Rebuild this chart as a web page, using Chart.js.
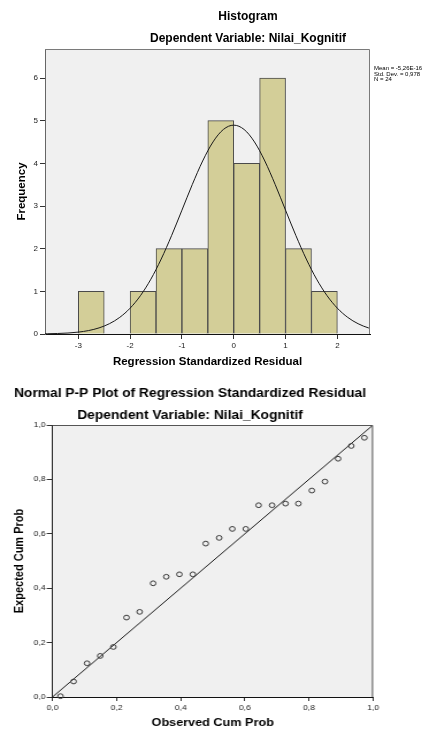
<!DOCTYPE html>
<html>
<head>
<meta charset="utf-8">
<script src="https://cdn.jsdelivr.net/npm/chart.js@4.4.0/dist/chart.umd.min.js"></script>
<style>
  html, body { margin: 0; padding: 0; background: #fff; }
  body { width: 444px; height: 731px; position: relative; overflow: hidden; }
  #hist { position: absolute; left: 0; top: 0; }
  /* the P-P plot in the reference is stretched sideways */
  #pp { position: absolute; left: 0; top: 370px; transform: scaleX(1.15); transform-origin: 0 0; }
</style>
</head>
<body>
<canvas id="hist" width="444" height="370" style="width:444px;height:370px"></canvas>
<canvas id="pp" width="386" height="361" style="width:386px;height:361px"></canvas>
<script>
const FONT = "'Liberation Sans', Arial, sans-serif";

// histogram: bins of 0.5
const binCenters = [-2.75, -2.25, -1.75, -1.25, -0.75, -0.25, 0.25, 0.75, 1.25, 1.75];
const binCounts = [1, 0, 1, 2, 2, 5, 4, 6, 2, 1];

// normal curve
const curveX = [-3.8, -3.6, -3.4, -3.2, -3.0, -2.8, -2.6, -2.4, -2.2, -2.0, -1.8, -1.6, -1.4, -1.2, -1.0,
  -0.8, -0.6, -0.4, -0.2, 0, 0.2, 0.4, 0.6, 0.8, 1.0, 1.2, 1.4, 1.6, 1.8, 2.0, 2.2, 2.4, 2.6, 2.8];
const curveY = [0.003, 0.006, 0.012, 0.023, 0.044, 0.081, 0.143, 0.241, 0.390, 0.605, 0.900, 1.284, 1.757, 2.306, 2.902,
  3.503, 4.055, 4.502, 4.794, 4.895, 4.794, 4.502, 4.055, 3.503, 2.902, 2.306, 1.757, 1.284, 0.900, 0.605, 0.390, 0.241, 0.143, 0.081];

const histXTicks = [-3, -2, -1, 0, 1, 2];
const histYTicks = [0, 1, 2, 3, 4, 5, 6];
const statsLines = ['Mean = -5,26E-16', 'Std. Dev. = 0,978', 'N = 24'];

// P-P plot
const observed = [0.025, 0.066, 0.108, 0.149, 0.190, 0.231, 0.272, 0.314, 0.355, 0.396, 0.438, 0.478,
  0.520, 0.561, 0.603, 0.643, 0.685, 0.727, 0.767, 0.809, 0.850, 0.891, 0.932, 0.973];
const expected = [0.003, 0.057, 0.124, 0.151, 0.184, 0.292, 0.313, 0.418, 0.442, 0.451, 0.451, 0.564,
  0.585, 0.618, 0.618, 0.705, 0.705, 0.711, 0.711, 0.759, 0.792, 0.876, 0.923, 0.953];
const ppTicks = [0, 0.2, 0.4, 0.6, 0.8, 1];
const ppTickLabels = ['0,0', '0,2', '0,4', '0,6', '0,8', '1,0'];

const plotFrame = {
  id: 'plotFrame',
  beforeDraw(chart) {
    const { ctx, chartArea: a } = chart;
    ctx.save();
    ctx.fillStyle = '#f0f0f0';
    ctx.fillRect(a.left, a.top, a.width, a.height);
    ctx.restore();
  },
  afterDatasetsDraw(chart, args, opts) {
    const { ctx, chartArea: a } = chart;
    ctx.save();
    ctx.strokeStyle = opts.color;
    ctx.lineWidth = 1;
    ctx.beginPath();
    ctx.moveTo(a.left, a.top + 0.5);
    ctx.lineTo(a.right - 0.5, a.top + 0.5);
    ctx.lineTo(a.right - 0.5, a.bottom);
    ctx.stroke();
    ctx.restore();
  },
  afterDraw(chart, args, opts) {
    const ctx = chart.ctx;
    ctx.save();
    ctx.fillStyle = '#000';
    ctx.textBaseline = 'middle';
    (opts.texts || []).forEach(t => {
      ctx.font = t.font;
      ctx.textAlign = t.align || 'center';
      ctx.fillText(t.text, t.x, t.y);
    });
    ctx.restore();
  }
};

const tickFont = size => ({ family: FONT, size });
const titleFont = size => ({ family: FONT, size, weight: 'bold' });

new Chart(document.getElementById('hist'), {
  type: 'bar',
  data: {
    datasets: [
      {
        type: 'line',
        data: curveX.map((x, i) => ({ x, y: curveY[i] })),
        borderColor: '#1a1a1a',
        borderWidth: 1,
        pointRadius: 0,
        cubicInterpolationMode: 'monotone',
        fill: false,
        order: 0,
      },
      {
        type: 'bar',
        data: binCenters.map((x, i) => ({ x, y: binCounts[i] })).filter(d => d.y > 0),
        backgroundColor: '#d3ce98',
        borderColor: '#4a4a4a',
        borderWidth: 1,
        barPercentage: 1,
        categoryPercentage: 1,
        order: 1,
      },
    ],
  },
  plugins: [plotFrame],
  options: {
    responsive: false,
    animation: false,
    devicePixelRatio: 1,
    events: [],
    layout: { padding: { left: 0, right: 74, top: 49, bottom: 0 } },
    scales: {
      x: {
        type: 'linear',
        offset: false,
        min: -3.643,
        max: 2.63,
        afterBuildTicks(scale) { scale.ticks = histXTicks.map(v => ({ value: v })); },
        afterFit(scale) { scale.height = 36; },
        ticks: { font: tickFont(8), color: '#222', padding: 2, maxRotation: 0, callback: v => String(v) },
        grid: { offset: false, drawOnChartArea: false, tickLength: 5, tickColor: '#333' },
        border: { color: '#111' },
        title: { display: true, text: 'Regression Standardized Residual', font: titleFont(11.5), color: '#000', padding: { top: 0, bottom: 1 } },
      },
      y: {
        min: 0,
        max: 6.68,
        afterBuildTicks(scale) { scale.ticks = histYTicks.map(v => ({ value: v })); },
        afterFit(scale) { scale.width = 45; },
        ticks: { font: tickFont(8), color: '#222', padding: 2, callback: v => String(v) },
        grid: { drawOnChartArea: false, tickLength: 5, tickColor: '#333' },
        border: { color: '#666' },
        title: { display: true, text: 'Frequency', font: titleFont(11.5), color: '#000', padding: { top: 15, bottom: 0 } },
      },
    },
    plugins: {
      legend: { display: false },
      tooltip: { enabled: false },
      plotFrame: {
        color: '#7a7a7a',
        texts: [
          { text: 'Histogram', x: 248, y: 16.5, font: `bold 12px ${FONT}` },
          { text: 'Dependent Variable: Nilai_Kognitif', x: 248, y: 39, font: `bold 12px ${FONT}` },
          { text: statsLines[0], x: 374, y: 68.5, font: `6px ${FONT}`, align: 'left' },
          { text: statsLines[1], x: 374, y: 74, font: `6px ${FONT}`, align: 'left' },
          { text: statsLines[2], x: 374, y: 79.5, font: `6px ${FONT}`, align: 'left' },
        ],
      },
    },
  },
});

new Chart(document.getElementById('pp'), {
  type: 'scatter',
  data: {
    datasets: [
      {
        type: 'line',
        data: [{ x: 0, y: 0 }, { x: 1, y: 1 }],
        borderColor: '#1a1a1a',
        borderWidth: 1,
        pointRadius: 0,
        order: 1,
      },
      {
        type: 'scatter',
        data: observed.map((x, i) => ({ x, y: expected[i] })),
        pointRadius: 2.4,
        pointBorderWidth: 1,
        borderColor: '#3a3a3a',
        backgroundColor: 'rgba(0,0,0,0)',
        clip: false,
        order: 0,
      },
    ],
  },
  plugins: [plotFrame],
  options: {
    responsive: false,
    animation: false,
    devicePixelRatio: 1,
    events: [],
    layout: { padding: { left: 0, right: 61.6, top: 55, bottom: 0 } },
    scales: {
      x: {
        type: 'linear',
        min: 0,
        max: 1,
        afterBuildTicks(scale) { scale.ticks = ppTicks.map(v => ({ value: v })); },
        afterFit(scale) { scale.height = 34; },
        ticks: { font: tickFont(7.5), color: '#222', padding: 2, maxRotation: 0, callback: (v, i) => ppTickLabels[i] },
        grid: { drawOnChartArea: false, tickLength: 4, tickColor: '#333' },
        border: { color: '#111' },
        title: { display: true, text: 'Observed Cum Prob', font: titleFont(11), color: '#000', padding: { top: 0, bottom: 1.4 } },
      },
      y: {
        min: 0,
        max: 1,
        afterBuildTicks(scale) { scale.ticks = ppTicks.map(v => ({ value: v })); },
        afterFit(scale) { scale.width = 45.6; },
        ticks: { font: tickFont(7.5), color: '#222', padding: 1, callback: (v, i) => ppTickLabels[i] },
        grid: { drawOnChartArea: false, tickLength: 5, tickColor: '#333' },
        border: { color: '#222' },
        title: { display: true, text: 'Expected Cum Prob', font: titleFont(11), color: '#000', padding: { top: 10.8, bottom: 0 } },
      },
    },
    plugins: {
      legend: { display: false },
      tooltip: { enabled: false },
      plotFrame: {
        color: '#555',
        texts: [
          { text: 'Normal P-P Plot of Regression Standardized Residual', x: 165.2, y: 24, font: `bold 12px ${FONT}` },
          { text: 'Dependent Variable: Nilai_Kognitif', x: 165.2, y: 46, font: `bold 12px ${FONT}` },
        ],
      },
    },
  },
});
</script>
</body>
</html>
